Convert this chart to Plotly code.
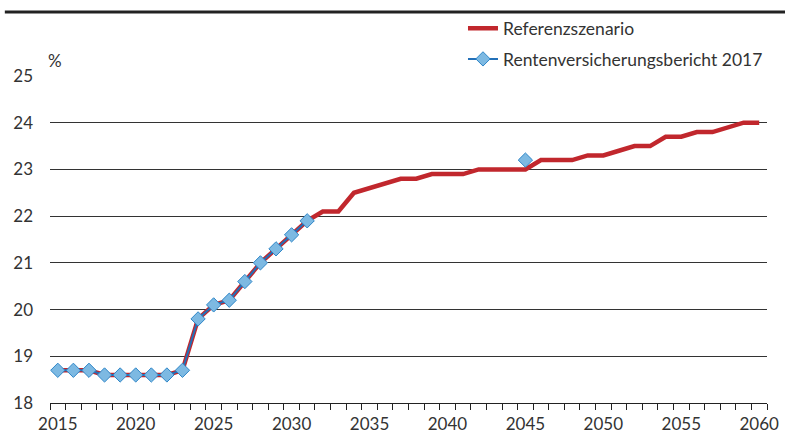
import plotly.graph_objects as go

years = list(range(2015, 2061))

referenz = [
    18.7, 18.7, 18.7, 18.6, 18.6, 18.6, 18.6, 18.6, 18.7, 19.8,
    20.1, 20.2, 20.6, 21.0, 21.3, 21.6, 21.9, 22.1, 22.1, 22.5,
    22.6, 22.7, 22.8, 22.8, 22.9, 22.9, 22.9, 23.0, 23.0, 23.0,
    23.0, 23.2, 23.2, 23.2, 23.3, 23.3, 23.4, 23.5, 23.5, 23.7,
    23.7, 23.8, 23.8, 23.9, 24.0, 24.0,
]

# Rentenversicherungsbericht 2017: 2015-2031 plus the 2045 value
rvb_2017 = [
    18.7, 18.7, 18.7, 18.6, 18.6, 18.6, 18.6, 18.6, 18.7, 19.8,
    20.1, 20.2, 20.6, 21.0, 21.3, 21.6, 21.9,
] + [None] * 13 + [23.2] + [None] * 15

x_tick_labels = [2015, 2020, 2025, 2030, 2035, 2040, 2045, 2050, 2055, 2060]
y_ticks = [18, 19, 20, 21, 22, 23, 24, 25]

fig = go.Figure()

fig.add_trace(go.Scatter(
    x=years, y=referenz, name="Referenzszenario", legendgroup="ref",
    mode="lines", line=dict(color="#C1272D", width=4.5),
))
fig.add_trace(go.Scatter(
    x=years, y=rvb_2017, name="Rentenversicherungsbericht 2017",
    legendgroup="rvb", mode="lines+markers", connectgaps=False,
    line=dict(color="#2370B8", width=2),
    marker=dict(symbol="diamond", size=11, color="#7DB9E2",
                line=dict(color="#2E86C8", width=1)),
))

fig.update_layout(
    width=785, height=439,
    margin=dict(l=50, r=18, t=76, b=36, autoexpand=False),
    plot_bgcolor="white", paper_bgcolor="white",
    font=dict(family="Lato, sans-serif", size=17, color="#333333"),
    showlegend=True,
    legend=dict(
        x=0.576, y=1.201, xanchor="left", yanchor="top",
        bgcolor="rgba(0,0,0,0)", font=dict(size=17.5, color="#333333"),
        itemwidth=30, tracegroupgap=5,
    ),
    xaxis=dict(
        range=[2014.5, 2060.5], tickvals=x_tick_labels,
        ticktext=[str(v) for v in x_tick_labels],
        showgrid=False, zeroline=False,
        showline=True, linecolor="#222222", linewidth=1,
        ticks="", ticklabelstandoff=6, ticklabeloverflow="allow",
        minor=dict(ticks="outside", tick0=2014.5, dtick=1, ticklen=6,
                   tickcolor="#222222", tickwidth=1, showgrid=False),
    ),
    yaxis=dict(
        range=[18, 25], tickvals=y_ticks,
        showgrid=True, gridcolor="#333333", gridwidth=1,
        zeroline=False, showline=False,
        ticks="", ticklabelstandoff=16,
    ),
    shapes=[dict(type="line", xref="paper", yref="paper",
                 x0=-0.063, x1=1.03, y0=1.196, y1=1.196,
                 line=dict(color="#222222", width=3))],
    annotations=[dict(text="%", xref="paper", yref="paper",
                      x=-0.006, y=1.009, xanchor="left", yanchor="bottom",
                      showarrow=False, font=dict(size=17, color="#333333"))],
)

# drop the default 8px body margin so the figure fills the window
fig.write_html("out.html", config={"displayModeBar": False},
               post_script="document.body.style.margin='0';")
